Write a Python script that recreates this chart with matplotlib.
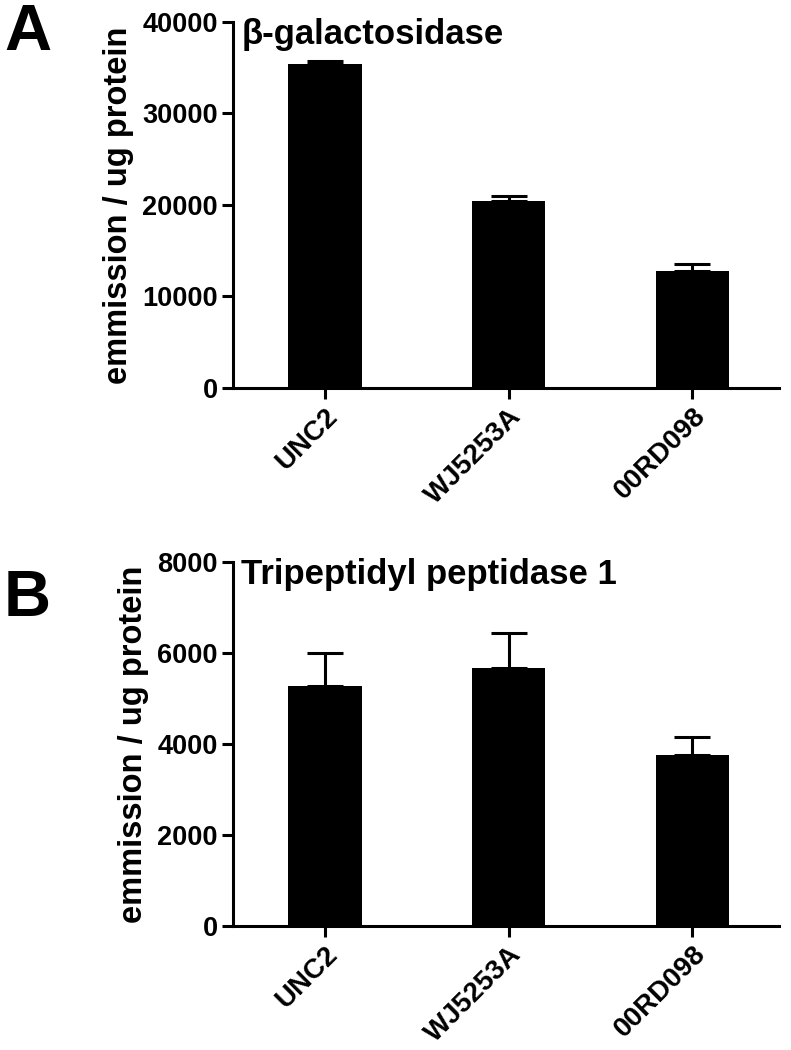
import matplotlib
matplotlib.use("Agg")
import matplotlib.pyplot as plt

plt.rcParams['font.family'] = ['Liberation Sans', 'DejaVu Sans']
plt.rcParams['font.weight'] = 'bold'

strains = ["UNC2", "WJ5253A", "00RD098"]

gal_mean = [35380, 20450, 12750]
gal_err = [330, 560, 750]

tpp_mean = [5280, 5660, 3750]
tpp_err = [710, 770, 400]

ylabel = "emmission / ug protein"


def panel(ax, means, errs, ymax, step, title):
    x = range(len(strains))
    ax.bar(x, means, width=0.4, color="black", zorder=2)
    ax.errorbar(x, means, yerr=[[0] * len(errs), errs], fmt="none",
                ecolor="black", elinewidth=2.2, capsize=13, capthick=2.2, zorder=3)
    ax.set_xlim(-0.5, 2.47)
    ax.set_ylim(0, ymax)
    ax.set_yticks(range(0, ymax + 1, step))
    ax.set_xticks(list(x))
    ax.set_xticklabels(strains, rotation=45, ha="right", rotation_mode="anchor",
                       fontsize=20, fontweight="bold")
    for lab in ax.get_yticklabels():
        lab.set_fontsize(19.5)
        lab.set_fontweight("bold")
    ax.spines["top"].set_visible(False)
    ax.spines["right"].set_visible(False)
    ax.spines["left"].set_linewidth(2.2)
    ax.spines["bottom"].set_linewidth(2.2)
    ax.tick_params(axis="both", width=2.2, length=8, direction="out", pad=3)
    ax.set_ylabel(ylabel, fontsize=23.5, fontweight="bold", labelpad=6)
    ax.text(0.015, 1.01, title, transform=ax.transAxes, fontsize=25,
            fontweight="bold", va="top", ha="left")


fig = plt.figure(figsize=(7.91, 10.5), dpi=100)
ax1 = fig.add_axes([0.2946, 0.6305, 0.690, 0.3486])
ax2 = fig.add_axes([0.2946, 0.1181, 0.690, 0.3467])

panel(ax1, gal_mean, gal_err, 40000, 10000, "β-galactosidase")
panel(ax2, tpp_mean, tpp_err, 8000, 2000, "Tripeptidyl peptidase 1")

fig.text(0.005, 0.997, "A", fontsize=47, fontweight="bold", va="top", ha="left")
fig.text(0.005, 0.458, "B", fontsize=47, fontweight="bold", va="top", ha="left")

fig.savefig("out.png", dpi=100)
